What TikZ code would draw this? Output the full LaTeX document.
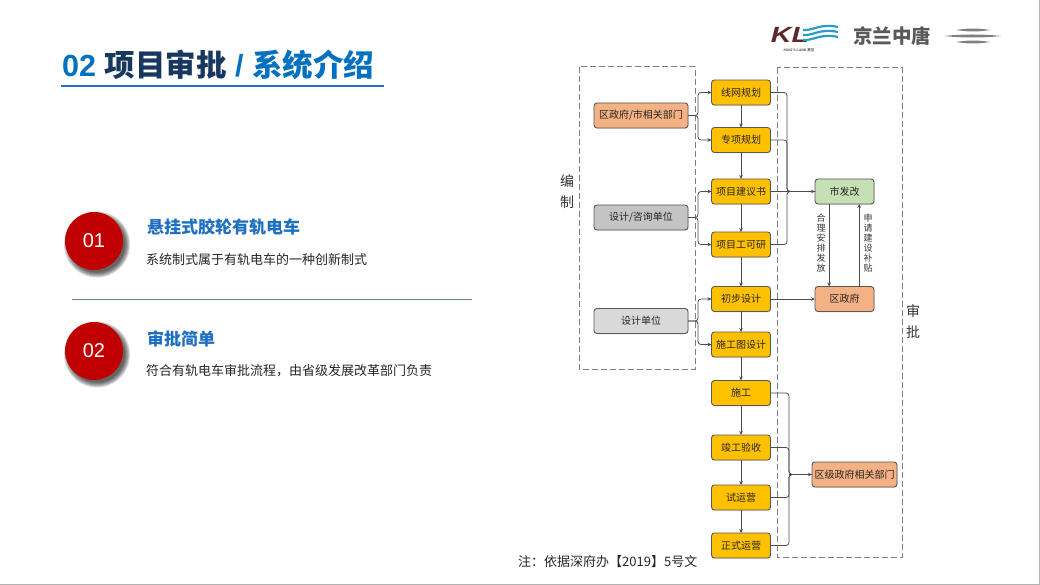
\documentclass[tikz,border=0pt]{standalone}
\usepackage{fontspec}
\setmainfont{Liberation Sans}
\newfontfamily\cjk{Noto Sans CJK SC}
\usepackage{xcolor}
\usetikzlibrary{positioning, calc, arrows.meta, shadows}
\definecolor{TitleBlue}{HTML}{0070C0}
\definecolor{TitleNavy}{HTML}{17375E}
\definecolor{HeadBlue}{HTML}{1F70C1}
\definecolor{RuleSlate}{HTML}{5B7F99}
\definecolor{DiscRed}{HTML}{C00000}
\definecolor{StepGold}{HTML}{FFC000}
\definecolor{OrgOrange}{HTML}{F4B183}
\definecolor{UnitGray}{HTML}{C4C4C4}
\definecolor{UnitLight}{HTML}{D9D9D9}
\definecolor{OfficeGreen}{HTML}{C5E0B4}
\definecolor{EdgeGray}{HTML}{595959}
\definecolor{FrameGray}{HTML}{7F7F7F}
\definecolor{LogoRed}{HTML}{5A2A2A}
\definecolor{LogoBlue}{HTML}{2A9CC8}

\begin{document}
\begin{tikzpicture}[
  x=1pt, y=-1pt,
  every node/.style={font=\cjk},
  box/.style={rectangle, rounded corners=3pt, draw=EdgeGray, line width=0.9pt, inner sep=0pt, outer sep=0pt, align=center, font=\cjk\fontsize{10}{12}\selectfont, text=black!85, drop shadow={shadow xshift=0.6pt, shadow yshift=-0.8pt, opacity=0.25}},
  stepbox/.style={box, fill=StepGold, minimum width=59pt, minimum height=25pt},
  orgbox/.style={box, fill=OrgOrange, minimum width=94pt, minimum height=25pt},
  unitbox/.style={box, fill=UnitGray, minimum width=94pt, minimum height=25pt},
  officebox/.style={box, minimum width=59pt, minimum height=25pt},
  arr/.style={-{Stealth[length=4pt, width=3.5pt]}, line width=0.8pt, black!70},
  bus/.style={arr, rounded corners=3pt},
  joinline/.style={line width=0.8pt, black!70, rounded corners=3pt},
  frame/.style={draw=FrameGray, line width=1pt, dash pattern=on 6pt off 3pt},
  sidelabel/.style={font=\cjk\fontsize{14}{21}\selectfont, text=black!80, align=center},
  vlabel/.style={font=\cjk\fontsize{9}{10}\selectfont, text=black!80, align=center},
  disc/.style={circle, fill=DiscRed, minimum size=58pt, inner sep=0pt, text=white, font=\fontsize{20}{24}\selectfont},
  headline/.style={anchor=west, inner sep=0pt, text=HeadBlue, font=\cjk\bfseries\fontsize{17}{20}\selectfont},
  subline/.style={anchor=west, inner sep=0pt, text=black!85, font=\cjk\fontsize{13}{16}\selectfont},
]

\useasboundingbox (0,0) rectangle (1040,585);
\fill[white] (0,0) rectangle (1040,585);
\draw[black!30, line width=1.2pt] (0,584.4) -- (1039.4,584.4) -- (1039.4,0);

% title
\node[anchor=base west, inner sep=0pt, font=\fontsize{30.5}{36}\selectfont\bfseries] (title) at (62,77) {\textcolor{TitleBlue}{02} {\cjk\textcolor{TitleNavy}{项目审批}} \textcolor{TitleBlue}{/ {\cjk 系统介绍}}};
\draw[HeadBlue, line width=1.6pt] (61,86) -- (384,86);

% logo
\node[anchor=base, inner sep=0pt, text=LogoRed, xscale=1.3, font=\fontsize{22}{22}\selectfont\bfseries\itshape] (kl) at (790,42.5) {KL};
\foreach \yy in {29,34,39}
  \draw[LogoBlue, line width=2.2pt] (803,\yy+1) .. controls (813,\yy+2) and (820,\yy-6) .. (838,\yy-2);
\node[inner sep=0pt, text=black!70, font=\fontsize{3.5}{4}\selectfont\itshape\bfseries] (klname) at (799,50.5) {KING'S LAND {\cjk 京兰}};
\node[inner sep=0pt, text=black!65, font=\cjk\bfseries\fontsize{19.5}{20}\selectfont] (brand) at (892,36) {京兰中唐};
\fill[black!50] (956,30) .. controls (968,28) and (978,28) .. (990,30) .. controls (978,32) and (968,32) .. (956,30);
\fill[black!50] (944,36) .. controls (962,34) and (983,34) .. (1001,36) .. controls (983,38) and (962,38) .. (944,36);
\fill[black!50] (956,42) .. controls (968,40) and (978,40) .. (990,42) .. controls (978,44) and (968,44) .. (956,42);

% left items
\foreach \r in {28,...,33} {
  \fill[black, opacity=0.14] (97,244.5) circle (\r);
  \fill[black, opacity=0.14] (97,354.5) circle (\r);
}
\node[disc] (d1) at (94,241) {01};
\node[disc] (d2) at (94,351) {02};
\node[headline] (h1) at (147,227) {悬挂式胶轮有轨电车};
\node[subline] (s1) at (146,260) {系统制式属于有轨电车的一种创新制式};
\node[headline] (h2) at (147,339) {审批简单};
\node[subline] (s2) at (146,371) {符合有轨电车审批流程，由省级发展改革部门负责};
\draw[RuleSlate, line width=1pt] (72,299.5) -- (472,299.5);

% dashed groups
\draw[frame] (579,67) rectangle (695,369);
\draw[frame] (777,68) rectangle (902,557);
\node[sidelabel] (bz) at (567,192) {编\\制};
\node[sidelabel] (sp) at (913,322) {审\\批};

% main column
\node[stepbox] (xw) at (741,92.5) {线网规划};
\node[stepbox, below=22.5pt of xw] (zx) {专项规划};
\node[stepbox, below=26.5pt of zx] (jy) {项目建议书};
\node[stepbox, below=28pt of jy] (gk) {项目工可研};
\node[stepbox, below=29.5pt of gk] (cb) {初步设计};
\node[stepbox, below=20.5pt of cb] (sg) {施工图设计};
\node[stepbox, below=23.5pt of sg] (st) {施工};
\node[stepbox, below=29.5pt of st] (jg) {竣工验收};
\node[stepbox, below=25pt of jg] (sy) {试运营};
\node[stepbox, below=23pt of sy] (zs) {正式运营};

% left units
\node[orgbox] (qz) at (641,115.5) {区政府/市相关部门};
\node[unitbox] (zu) at (641,217.5) {设计/咨询单位};
\node[unitbox, fill=UnitLight] (dw) at (641,321) {设计单位};

% right offices
\node[officebox, fill=OfficeGreen, right=44.5pt of jy] (fg) {市发改};
\node[officebox, fill=OrgOrange, right=44.5pt of cb] (qf) {区政府};
\node[officebox, fill=OrgOrange, minimum width=85pt] (qj) at (854.5,474.5) {区级政府相关部门};

% trunk points
\coordinate (tl) at (698,0);
\coordinate (tr) at (787,0);
\coordinate (tb) at (789,0);

\foreach \a/\b in {xw/zx, zx/jy, jy/gk, gk/cb, cb/sg, sg/st, st/jg, jg/sy, sy/zs}
  \draw[arr] (\a) -- (\b);

\foreach \a/\b/\c in {qz/xw/zx, zu/jy/gk, dw/cb/sg} {
  \draw[bus] (\a.east) -- (\a.east -| tl) |- (\b.west);
  \draw[bus] (\a.east) -- (\a.east -| tl) |- (\c.west);
}

\foreach \a in {xw, zx, gk}
  \draw[joinline] (\a.east) -- (\a.east -| tr) |- (fg.west);
\draw[arr] (jy) -- (fg);
\draw[arr] (cb) -- (qf);

\foreach \a in {st, jg, sy, zs}
  \draw[joinline] (\a.east) -- (\a.east -| tb) |- (qj.west);
\draw[arr] (qj.west -| tb) -- (qj.west);

% funding arrows
\coordinate (dn) at ($(fg.south west)!0.24!(fg.south east)$);
\coordinate (up) at ($(fg.south west)!0.75!(fg.south east)$);
\draw[arr] (dn) -- (dn |- qf.north);
\draw[arr] (up |- qf.north) -- (up);
\node[vlabel] (hl) at (821,243) {合\\理\\安\\排\\发\\放};
\node[vlabel] (sq) at (868,243) {申\\请\\建\\设\\补\\贴};

% note
\node[anchor=west, inner sep=0pt, text=black!85, font=\cjk\fontsize{13}{16}\selectfont] (note) at (518,562) {注：依据深府办【2019】5号文};

\end{tikzpicture}
\end{document}
